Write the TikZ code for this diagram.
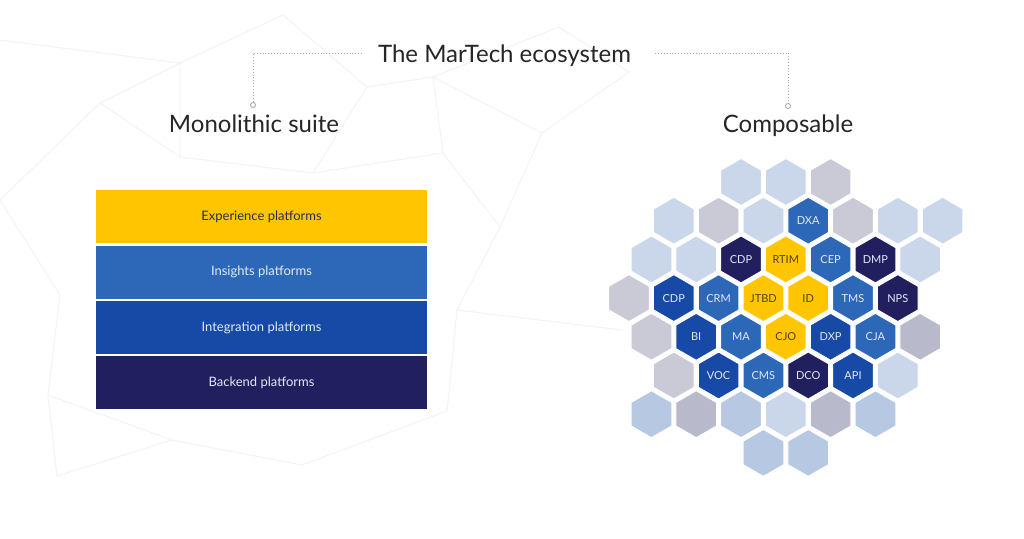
\documentclass[tikz,border=0pt]{standalone}
\usepackage{fontspec}
\setmainfont{Lato}
\usetikzlibrary{shapes.geometric}

\definecolor{mtYellow}{HTML}{FFC600}
\definecolor{mtMid}{HTML}{2D68B8}
\definecolor{mtRoyal}{HTML}{1749A6}
\definecolor{mtNavy}{HTML}{211F5E}
\definecolor{mtLight}{HTML}{CAD7EA}
\definecolor{mtLightB}{HTML}{B6C8E2}
\definecolor{mtGray}{HTML}{C9CAD6}
\definecolor{mtGrayB}{HTML}{B8B9CB}
\definecolor{mtPale}{HTML}{E2E9F5}
\definecolor{mtInk}{HTML}{2A2A55}
\definecolor{mtOlive}{HTML}{4E4220}
\definecolor{mtGuide}{HTML}{A9A9B0}
\definecolor{mtNet}{HTML}{F3F3F5}

\begin{document}
\begin{tikzpicture}[x=1pt, y=-1pt,
  hex/.style={regular polygon, regular polygon sides=6, shape border rotate=30, minimum size=47pt, inner sep=0pt, draw=white, line width=1pt, font=\fontsize{11}{13}\selectfont, text=mtPale},
  navyhex/.style={hex, fill=mtNavy},
  royalhex/.style={hex, fill=mtRoyal},
  midhex/.style={hex, fill=mtMid},
  yellowhex/.style={hex, fill=mtYellow, text=mtOlive},
  lighthex/.style={hex, fill=mtLight},
  lightbhex/.style={hex, fill=mtLightB},
  grayhex/.style={hex, fill=mtGray},
  graybhex/.style={hex, fill=mtGrayB},
  layer/.style={minimum width=331pt, minimum height=53pt, inner sep=0pt, font=\fontsize{13}{15}\selectfont, text=mtPale},
  heading/.style={anchor=base, inner sep=0pt, font=\fontsize{24}{28}\selectfont, text=black!85},
  guide/.style={draw=mtGuide, dotted, line width=0.9pt},
  net/.style={draw=mtNet, line width=1pt}]
\useasboundingbox (0,0) rectangle (1024,538);
\fill[white] (0,0) rectangle (1024,538);

% faint network in the background
\coordinate (n1) at (180,63);
\coordinate (n2) at (100,103);
\coordinate (n3) at (367,87);
\coordinate (n4) at (433,77);
\coordinate (n5) at (283,15);
\coordinate (n6) at (180,157);
\coordinate (n7) at (313,173);
\coordinate (n8) at (443,153);
\coordinate (n9) at (500,227);
\coordinate (n10) at (60,295);
\coordinate (n11) at (48,395);
\coordinate (n12) at (57,476);
\coordinate (n13) at (172,440);
\coordinate (n14) at (302,465);
\coordinate (n15) at (457,310);
\coordinate (n16) at (447,411);
\coordinate (n17) at (559,27);
\coordinate (n18) at (629,72);
\coordinate (n19) at (542,133);
\coordinate (n20) at (622,330);
\coordinate (n21) at (0,200);
\coordinate (n22) at (0,40);
\draw[net] (n22) -- (n1) -- (n5) -- (n3) -- (n4) -- (n17) -- (n18) -- (n19) -- (n4);
\draw[net] (n2) -- (n1) -- (n6) -- (n7) -- (n8) -- (n9) -- (n19);
\draw[net] (n3) -- (n7);
\draw[net] (n4) -- (n8);
\draw[net] (n2) -- (n6);
\draw[net] (n2) -- (n21) -- (n10) -- (n11) -- (n12) -- (n13) -- (n14) -- (n16) -- (n15) -- (n9);
\draw[net] (n11) -- (n13);
\draw[net] (n15) -- (n20);

% headings
\node[heading] (title) at (504.5,62) {The MarTech ecosystem};
\node[heading] (mono) at (254,132) {Monolithic suite};
\node[heading] (comp) at (788,132) {Composable};

\coordinate (tl) at (362,53);
\coordinate (tr) at (655,53);
\coordinate (lc) at (253,53);
\coordinate (rc) at (788,53);
\node[circle, draw=mtGuide, fill=white, line width=0.9pt, minimum size=5pt, inner sep=0pt] (ldot) at (253,105) {};
\node[circle, draw=mtGuide, fill=white, line width=0.9pt, minimum size=5pt, inner sep=0pt] (rdot) at (788,106) {};
\draw[guide] (tl) -- (lc) -- (ldot);
\draw[guide] (tr) -- (rc) -- (rdot);

% monolithic stack
\node[layer, fill=mtYellow, text=mtInk] (exp) at (261.5,216.5) {Experience platforms};
\node[layer, fill=mtMid] (ins) at (261.5,272) {Insights platforms};
\node[layer, fill=mtRoyal] (int) at (261.5,327.5) {Integration platforms};
\node[layer, fill=mtNavy] (back) at (261.5,382.5) {Backend platforms};

% composable honeycomb
\node[lighthex] (h01) at (741,182) {};
\node[lighthex] (h02) at (785.8,182) {};
\node[grayhex] (h03) at (830.6,182) {};

\node[lighthex] (h11) at (673.8,220.7) {};
\node[grayhex] (h12) at (718.6,220.7) {};
\node[lighthex] (h13) at (763.4,220.7) {};
\node[midhex] (dxa) at (808.2,220.7) {DXA};
\node[grayhex] (h15) at (853,220.7) {};
\node[lighthex] (h16) at (897.8,220.7) {};
\node[lighthex] (h17) at (942.6,220.7) {};

\node[lighthex] (h21) at (651.4,259.4) {};
\node[lighthex] (h22) at (696.2,259.4) {};
\node[navyhex] (cdpa) at (741,259.4) {CDP};
\node[yellowhex] (rtim) at (785.8,259.4) {RTIM};
\node[midhex] (cep) at (830.6,259.4) {CEP};
\node[navyhex] (dmp) at (875.4,259.4) {DMP};
\node[lighthex] (h27) at (920.2,259.4) {};

\node[grayhex] (h31) at (629,298.1) {};
\node[royalhex] (cdpb) at (673.8,298.1) {CDP};
\node[midhex] (crm) at (718.6,298.1) {CRM};
\node[yellowhex] (jtbd) at (763.4,298.1) {JTBD};
\node[yellowhex] (id) at (808.2,298.1) {ID};
\node[midhex] (tms) at (853,298.1) {TMS};
\node[navyhex] (nps) at (897.8,298.1) {NPS};

\node[grayhex] (h41) at (651.4,336.8) {};
\node[royalhex] (bi) at (696.2,336.8) {BI};
\node[midhex] (ma) at (741,336.8) {MA};
\node[yellowhex] (cjo) at (785.8,336.8) {CJO};
\node[royalhex] (dxp) at (830.6,336.8) {DXP};
\node[midhex] (cja) at (875.4,336.8) {CJA};
\node[graybhex] (h47) at (920.2,336.8) {};

\node[grayhex] (h51) at (673.8,375.5) {};
\node[royalhex] (voc) at (718.6,375.5) {VOC};
\node[midhex] (cms) at (763.4,375.5) {CMS};
\node[navyhex] (dco) at (808.2,375.5) {DCO};
\node[royalhex] (api) at (853,375.5) {API};
\node[lighthex] (h56) at (897.8,375.5) {};

\node[lightbhex] (h61) at (651.4,414.2) {};
\node[graybhex] (h62) at (696.2,414.2) {};
\node[lightbhex] (h63) at (741,414.2) {};
\node[lighthex] (h64) at (785.8,414.2) {};
\node[graybhex] (h65) at (830.6,414.2) {};
\node[lightbhex] (h66) at (875.4,414.2) {};

\node[lightbhex] (h71) at (763.4,452.9) {};
\node[lightbhex] (h72) at (808.2,452.9) {};
\end{tikzpicture}
\end{document}
